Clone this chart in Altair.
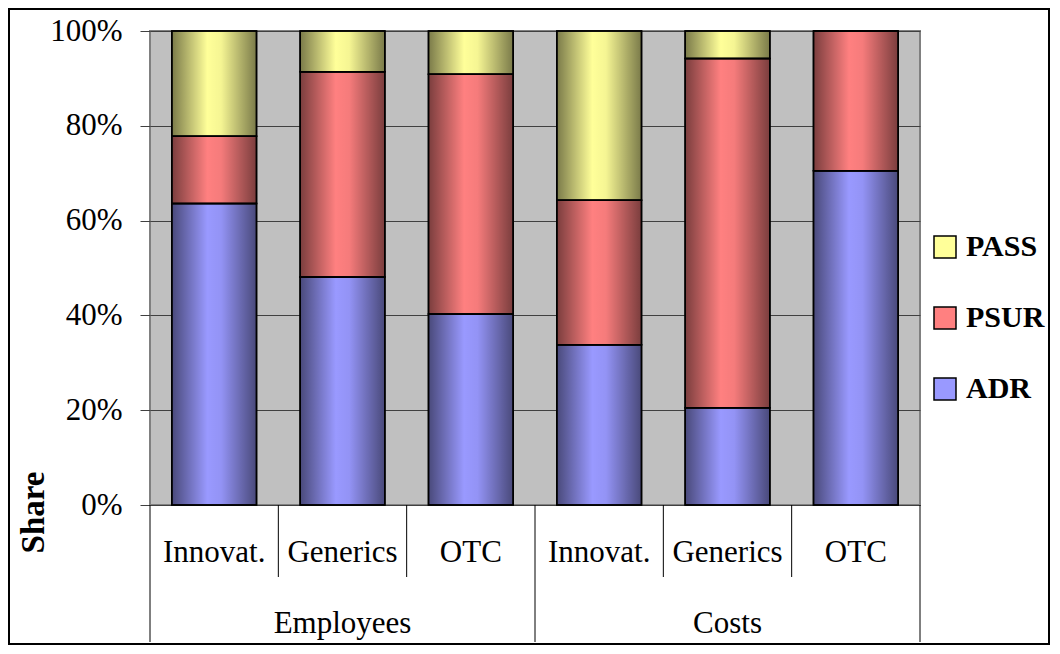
import altair as alt
import pandas as pd

# ---- data ----
groups = ["Employees", "Costs"]
subcats = ["Innovat.", "Generics", "OTC"]
series = ["ADR", "PSUR", "PASS"]          # stacking order, bottom to top
legend_order = ["PASS", "PSUR", "ADR"]
adr = [63.6, 48.1, 40.3, 33.8, 20.5, 70.5]
psur = [14.2, 43.3, 50.6, 30.5, 73.7, 29.5]
pass_ = [22.2, 8.6, 9.1, 35.7, 5.8, 0.0]
colors = {"PASS": "#FFFF99", "PSUR": "#FF8080", "ADR": "#9999FF"}
y_ticks = [0, 20, 40, 60, 80, 100]

# ---- build tables ----
rows = []
vals = {"ADR": adr, "PSUR": psur, "PASS": pass_}
n = len(groups) * len(subcats)
for i in range(n):
    base = 0.0
    for s in series:
        v = vals[s][i]
        rows.append({"idx": i, "series": s, "y0": base, "y1": base + v})
        base += v
bars = pd.DataFrame(rows)

sub_labels = pd.DataFrame(
    [{"pos": gi * len(subcats) + si + 0.5, "label": sc}
     for gi in range(len(groups)) for si, sc in enumerate(subcats)]
)
grp_labels = pd.DataFrame(
    [{"pos": gi * len(subcats) + len(subcats) / 2, "label": g} for gi, g in enumerate(groups)]
)
inner_seps = pd.DataFrame(
    [{"pos": gi * len(subcats) + k} for gi in range(len(groups)) for k in range(1, len(subcats))]
)
outer_seps = pd.DataFrame([{"pos": gi * len(subcats)} for gi in range(len(groups) + 1)])

FONT = "Liberation Serif"
W, H = 770, 474
xscale = alt.Scale(domain=[0, n], nice=False, zero=False)

bar_base = alt.Chart(bars).transform_calculate(
    xa="datum.idx + 0.17", xb="datum.idx + 0.83"
)

bar_layer = bar_base.mark_bar(stroke="black", strokeWidth=1.5).encode(
    x=alt.X("xa:Q", scale=xscale, axis=None),
    x2="xb:Q",
    y=alt.Y(
        "y0:Q",
        scale=alt.Scale(domain=[0, 100], nice=False),
        axis=alt.Axis(
            values=y_ticks,
            labelExpr="datum.value + '%'",
            labelFont=FONT,
            labelFontSize=31,
            labelColor="black",
            tickSize=10,
            tickColor="#404040",
            labelPadding=18,
            domain=False,
            grid=True,
            gridColor="#404040",
            gridWidth=1,
            title="Share",
            titleFont=FONT,
            titleFontSize=33,
            titleFontWeight="bold",
            titleColor="black",
            titleX=-117,
            titleY=481,
            titleAngle=270,
            titleAlign="center",
            titleBaseline="middle",
        ),
    ),
    y2="y1:Q",
    color=alt.Color(
        "series:N",
        scale=alt.Scale(domain=legend_order, range=[colors[s] for s in legend_order]),
        legend=alt.Legend(
            title=None,
            orient="none",
            legendX=780,
            legendY=201,
            symbolType="square",
            symbolSize=484,
            symbolStrokeColor="black",
            symbolStrokeWidth=1.5,
            symbolOpacity=1,
            labelFont=FONT,
            labelFontSize=30,
            labelFontWeight="bold",
            labelColor="black",
            labelOffset=6,
            labelLimit=200,
            rowPadding=41,
        ),
    ),
)

shade = alt.Gradient(
    gradient="linear",
    x1=0, x2=1, y1=0, y2=0,
    stops=[
        alt.GradientStop(offset=0, color="rgba(0,0,0,0.52)"),
        alt.GradientStop(offset=0.42, color="rgba(0,0,0,0)"),
        alt.GradientStop(offset=0.58, color="rgba(0,0,0,0.04)"),
        alt.GradientStop(offset=1, color="rgba(0,0,0,0.52)"),
    ],
)
shade_layer = bar_base.mark_bar(fill=shade, stroke="black", strokeWidth=1.5).encode(
    x=alt.X("xa:Q", scale=xscale), x2="xb:Q", y="y0:Q", y2="y1:Q"
)

sub_text = alt.Chart(sub_labels).mark_text(
    font=FONT, fontSize=31, color="black", baseline="middle", align="center"
).encode(x=alt.X("pos:Q", scale=xscale), y=alt.value(522), text="label:N")

grp_text = alt.Chart(grp_labels).mark_text(
    font=FONT, fontSize=31, color="black", baseline="middle", align="center"
).encode(x=alt.X("pos:Q", scale=xscale), y=alt.value(593), text="label:N")

inner_rules = alt.Chart(inner_seps).mark_rule(color="black", strokeWidth=1).encode(
    x=alt.X("pos:Q", scale=xscale), y=alt.value(H), y2=alt.value(H + 72)
)
outer_rules = alt.Chart(outer_seps).mark_rule(color="black", strokeWidth=1).encode(
    x=alt.X("pos:Q", scale=xscale), y=alt.value(H), y2=alt.value(H + 137)
)

frame = alt.Chart(pd.DataFrame({"a": [0]})).mark_rect(
    fill=None, stroke="black", strokeWidth=2
).encode(
    x=alt.value(-141), x2=alt.value(899), y=alt.value(-22), y2=alt.value(613)
)

chart = alt.layer(
    bar_layer, shade_layer, sub_text, grp_text, inner_rules, outer_rules, frame
).properties(
    width=W,
    height=H,
    autosize=alt.AutoSizeParams(type="none"),
    padding={"left": 142, "top": 23, "right": 132, "bottom": 141},
    background="white",
).configure_view(
    fill="#C0C0C0", stroke="#808080", strokeWidth=2
)

chart.save("out.html", embed_options={"renderer": "svg", "actions": False})
